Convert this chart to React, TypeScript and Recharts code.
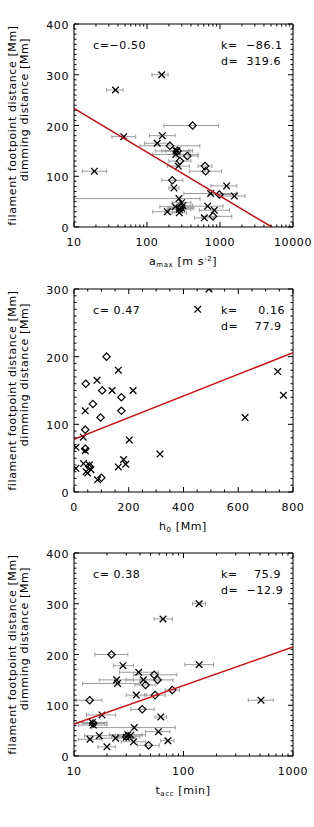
import React from 'react';
import { ScatterChart, Scatter, XAxis, YAxis, ErrorBar } from 'recharts';

// one entry per event: footpoint/dimming distance [Mm] and marker (x = cross, d = diamond)
const distance = [300, 270, 200, 180, 178, 165, 160, 150, 150, 150, 140, 143, 130, 120, 120, 110, 110, 92, 81, 77, 66, 64, 61, 56, 48, 42, 40, 41, 38, 37, 35, 33, 30, 28, 18, 21];
const marker = ['x', 'x', 'd', 'x', 'x', 'x', 'd', 'x', 'x', 'd', 'd', 'x', 'd', 'x', 'd', 'd', 'x', 'd', 'x', 'x', 'x', 'd', 'x', 'x', 'x', 'x', 'x', 'x', 'd', 'x', 'x', 'x', 'x', 'x', 'x', 'd'];

// a_max [m s^-2] with error range
const amax = [159, 37, 422, 162, 48, 138, 206, 250, 258, 262, 356, 248, 283, 268, 623, 636, 19, 222, 1232, 234, 745, 980, 1570, 274, 298, 311, 244, 678, 290, 298, 277, 835, 190, 277, 610, 802];
const amaxLow = [117, 28, 170, 108, 33, 93, 80, 160, 180, 130, 250, 120, 200, 190, 500, 380, 13, 160, 750, 200, 320, 700, 1100, 10, 220, 230, 150, 420, 200, 200, 190, 520, 120, 220, 450, 560];
const amaxHigh = [194, 47, 950, 243, 70, 205, 530, 390, 370, 420, 500, 500, 400, 380, 780, 1050, 28, 310, 1700, 275, 1700, 1400, 2200, 532, 400, 420, 400, 1100, 420, 440, 400, 1350, 300, 350, 830, 1450];

// h0 [Mm]
const h0 = [493, 452, 119, 162, 744, 84, 43, 139, 216, 103, 173, 765, 69, 41, 173, 97, 625, 41, 34, 202, 7, 41, 41, 314, 181, 35, 56, 189, 56, 162, 7, 62, 44, 50, 86, 100];

// t_acc [min] with error range
const tacc = [139, 65, 22, 139, 28, 39, 54, 24.5, 43, 58, 45, 25, 79, 37, 55, 13.9, 510, 42, 18, 62, 14.7, 15, 15, 35.5, 59, 31, 17, 33, 30, 30, 24, 14, 72, 35, 20, 48];
const taccLow = [121, 54, 15.5, 103, 23, 26, 35, 17, 30, 40, 36, 12, 68, 30, 44, 10.5, 390, 33, 13, 55, 10.5, 12, 11, 14.5, 45, 21, 12.5, 25, 22, 25, 17, 11, 62, 27, 16.5, 38];
const taccHigh = [159, 79, 31, 188, 35, 59, 87, 35, 60, 80, 56, 40, 92, 46, 68, 18, 660, 54, 24, 70, 20, 19, 20, 84, 75, 45, 24, 42, 40, 36, 34, 18, 82, 45, 24, 60];

// fitted lines (end points as drawn)
const amaxFit = [{ x: 10, y: 233.5 }, { x: 5130, y: 0 }];
const h0Fit = [{ x: 0, y: 77.9 }, { x: 800, y: 205.9 }];
const taccFit = [{ x: 10, y: 63 }, { x: 1000, y: 214.8 }];

// tick labels
const amaxTicks = [10, 100, 1000, 10000];
const h0Ticks = [0, 200, 400, 600, 800];
const taccTicks = [10, 100, 1000];
const dist400Ticks = [0, 100, 200, 300, 400];
const dist300Ticks = [0, 100, 200, 300];

const FONT = '"DejaVu Sans", sans-serif';
const GREY = '#9c9c9c';
const RED = '#cc1010';

const logMinor = (majors: number[]) => {
  const out: number[] = [];
  for (let i = 0; i < majors.length - 1; i++) for (let m = 1; m < 10; m++) out.push(majors[i] * m);
  out.push(majors[majors.length - 1]);
  return out;
};
const linMinor = (majors: number[], step: number) => {
  const out: number[] = [];
  for (let v = majors[0]; v <= majors[majors.length - 1]; v += step) out.push(v);
  return out;
};

const rows = (xs: number[], lo?: number[], hi?: number[]) =>
  distance.map((d, i) => ({
    x: xs[i],
    y: d,
    m: marker[i],
    err: lo && hi ? [xs[i] - lo[i], hi[i] - xs[i]] : 0,
  }));

const Mark = (p: any) => {
  const { cx, cy, payload } = p;
  if (cx == null || cy == null) return <g />;
  const r = 3.3;
  if (payload.m === 'd') {
    return (
      <polygon
        points={`${cx},${cy - r - 0.4} ${cx + r + 0.4},${cy} ${cx},${cy + r + 0.4} ${cx - r - 0.4},${cy}`}
        fill="none"
        stroke="#000"
        strokeWidth={1.2}
      />
    );
  }
  return (
    <g stroke="#000" strokeWidth={1.3}>
      <line x1={cx - r} y1={cy - r} x2={cx + r} y2={cy + r} />
      <line x1={cx - r} y1={cy + r} x2={cx + r} y2={cy - r} />
    </g>
  );
};
const Empty = () => <g />;

const tickFor = (side: string, majors: number[], withLabel: boolean) => (p: any) => {
  const { x, y, payload } = p;
  const v = payload.value;
  const major = majors.includes(v);
  const len = major ? 5 : 2.5;
  let x2 = x;
  let y2 = y;
  if (side === 'bottom') y2 = y - len;
  if (side === 'top') y2 = y + len;
  if (side === 'left') x2 = x + len;
  if (side === 'right') x2 = x - len;
  return (
    <g>
      <line x1={x} y1={y} x2={x2} y2={y2} stroke="#000" strokeWidth={1} />
      {withLabel && major && side === 'bottom' && (
        <text x={x} y={y + 19} textAnchor="middle" fontFamily={FONT} fontSize={11} letterSpacing={0.6} fill="#000">
          {v}
        </text>
      )}
      {withLabel && major && side === 'left' && (
        <text x={x - 5} y={y + 5} textAnchor="end" fontFamily={FONT} fontSize={11} letterSpacing={0.6} fill="#000">
          {v}
        </text>
      )}
    </g>
  );
};

type PanelProps = {
  top: number;
  data: any[];
  fit: { x: number; y: number }[];
  log: boolean;
  xMajors: number[];
  yMajors: number[];
  xTitle: React.ReactNode;
  c: string;
  k: string;
  d: string;
  errors: boolean;
};

function Panel({ top, data, fit, log, xMajors, yMajors, xTitle, c, k, d, errors }: PanelProps) {
  const xTicks = log ? logMinor(xMajors) : linMinor(xMajors, 50);
  const yTicks = linMinor(yMajors, 10);
  const xDomain = [xMajors[0], xMajors[xMajors.length - 1]];
  const yDomain = [yMajors[0], yMajors[yMajors.length - 1]];
  const boxTop = 24;
  const boxBottom = 227;
  const mid = (boxTop + boxBottom) / 2;
  const txt = { fontFamily: FONT, fontSize: 11, letterSpacing: 0.6, fill: '#000' };
  return (
    <div style={{ position: 'absolute', left: 0, top, width: 314, height: 270 }}>
      <ScatterChart width={314} height={270} margin={{ top: 23, right: 20, bottom: 0, left: 0 }}>
        <XAxis
          xAxisId="b"
          dataKey="x"
          type="number"
          scale={log ? 'log' : 'linear'}
          domain={xDomain}
          allowDataOverflow
          ticks={xTicks}
          interval={0}
          tickLine={false}
          tickSize={0}
          tickMargin={0}
          tick={tickFor('bottom', xMajors, true)}
          axisLine={{ stroke: '#000' }}
          height={43}
        />
        <XAxis
          xAxisId="t"
          orientation="top"
          dataKey="x"
          type="number"
          scale={log ? 'log' : 'linear'}
          domain={xDomain}
          allowDataOverflow
          ticks={xTicks}
          interval={0}
          tickLine={false}
          tickSize={0}
          tickMargin={0}
          tick={tickFor('top', xMajors, false)}
          axisLine={{ stroke: '#000' }}
          height={1}
        />
        <YAxis
          yAxisId="l"
          dataKey="y"
          type="number"
          domain={yDomain}
          allowDataOverflow
          ticks={yTicks}
          interval={0}
          tickLine={false}
          tickSize={0}
          tickMargin={0}
          tick={tickFor('left', yMajors, true)}
          axisLine={{ stroke: '#000' }}
          width={74}
        />
        <YAxis
          yAxisId="r"
          orientation="right"
          dataKey="y"
          type="number"
          domain={yDomain}
          allowDataOverflow
          ticks={yTicks}
          interval={0}
          tickLine={false}
          tickSize={0}
          tickMargin={0}
          tick={tickFor('right', yMajors, false)}
          axisLine={{ stroke: '#000' }}
          width={1}
        />
        <Scatter xAxisId="b" yAxisId="l" data={data} shape={Mark} isAnimationActive={false}>
          {errors && <ErrorBar dataKey="err" direction="x" width={2} stroke={GREY} strokeWidth={1} />}
        </Scatter>
        <Scatter
          xAxisId="b"
          yAxisId="l"
          data={fit}
          line={{ stroke: RED, strokeWidth: 1.5 }}
          shape={Empty}
          isAnimationActive={false}
        />
        <Scatter xAxisId="t" yAxisId="r" data={fit} shape={Empty} isAnimationActive={false} />
        <text x={93} y={boxTop + 25} {...txt}>{c}</text>
        <text x={221} y={boxTop + 25} {...txt} style={{ whiteSpace: 'pre' }}>{k}</text>
        <text x={221} y={boxTop + 41} {...txt} style={{ whiteSpace: 'pre' }}>{d}</text>
        <text x={183} y={boxBottom + 38} textAnchor="middle" {...txt}>{xTitle}</text>
        <text transform={`translate(16, ${mid}) rotate(-90)`} textAnchor="middle" {...txt}>
          filament footpoint distance [Mm]
        </text>
        <text transform={`translate(28, ${mid - 16}) rotate(-90)`} textAnchor="middle" {...txt}>
          dimming distance [Mm]
        </text>
      </ScatterChart>
    </div>
  );
}

export default function App() {
  return (
    <div style={{ position: 'absolute', left: 0, top: 0, width: 314, height: 827, background: '#fff' }}>
      <Panel
        top={0}
        data={rows(amax, amaxLow, amaxHigh)}
        fit={amaxFit}
        log
        xMajors={amaxTicks}
        yMajors={dist400Ticks}
        xTitle={
          <>
            <tspan>a</tspan>
            <tspan fontSize={7} dy={2}>max</tspan>
            <tspan dy={-2}>{' [m s'}</tspan>
            <tspan fontSize={7} dy={-4}>-2</tspan>
            <tspan dy={4}>]</tspan>
          </>
        }
        c="c=−0.50"
        k="k=  −86.1"
        d="d=  319.6"
        errors
      />
      <Panel
        top={265}
        data={rows(h0)}
        fit={h0Fit}
        log={false}
        xMajors={h0Ticks}
        yMajors={dist300Ticks}
        xTitle={
          <>
            <tspan>h</tspan>
            <tspan fontSize={7} dy={2}>0</tspan>
            <tspan dy={-2}>{' [Mm]'}</tspan>
          </>
        }
        c="c=  0.47"
        k="k=     0.16"
        d="d=    77.9"
        errors={false}
      />
      <Panel
        top={529}
        data={rows(tacc, taccLow, taccHigh)}
        fit={taccFit}
        log
        xMajors={taccTicks}
        yMajors={dist400Ticks}
        xTitle={
          <>
            <tspan>t</tspan>
            <tspan fontSize={7} dy={2}>acc</tspan>
            <tspan dy={-2}>{' [min]'}</tspan>
          </>
        }
        c="c=  0.38"
        k="k=    75.9"
        d="d=  −12.9"
        errors
      />
    </div>
  );
}
